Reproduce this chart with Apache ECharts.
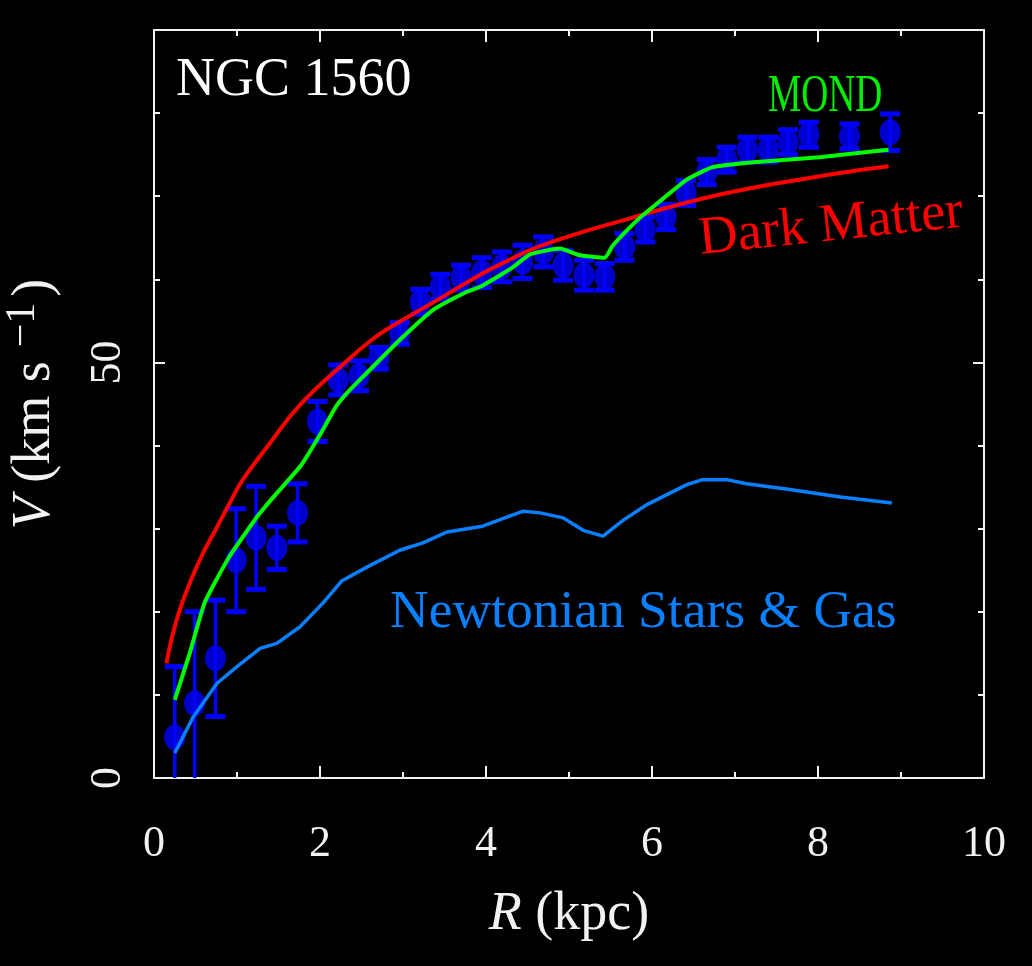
<!DOCTYPE html>
<html>
<head>
<meta charset="utf-8">
<script src="https://cdn.jsdelivr.net/npm/echarts@6/dist/echarts.min.js"></script>
<style>
html,body{margin:0;padding:0;background:#000;}
#chart{width:1032px;height:966px;}
</style>
</head>
<body>
<div id="chart"></div>
<script>
// Observed rotation curve (blue points with error bars)
const R_obs = [0.25,0.49,0.74,0.99,1.23,1.48,1.73,1.97,2.22,2.47,2.71,2.96,3.21,3.45,3.70,3.95,4.19,4.44,4.69,4.93,5.18,5.43,5.67,5.92,6.17,6.41,6.66,6.90,7.15,7.40,7.64,7.89,8.38,8.87];
const V_obs = [4.9,9.0,14.4,26.2,28.9,27.7,31.9,42.9,47.9,48.4,50.5,53.5,57.3,59.1,60.2,60.8,61.5,62.1,63.3,61.7,60.5,60.3,63.9,66.0,67.5,70.4,72.9,74.4,75.6,75.6,76.5,77.4,77.2,77.7];
const V_err = [8.5,11.0,7.0,6.2,6.2,2.6,3.5,2.4,1.8,1.8,1.3,1.3,1.5,1.5,1.5,1.8,1.8,2.0,1.8,1.8,1.8,1.6,1.6,1.5,1.5,1.5,1.5,1.5,1.5,1.5,1.5,1.5,1.5,2.2];

// Dark Matter fit (red)
const R_dm = [0.15,0.30,0.55,0.76,0.95,1.07,1.36,1.76,2.36,2.62,2.84,3.36,3.94,4.17,4.65,5.65,6.82,8.02,8.85];
const V_dm = [13.8,19.9,26.2,30.2,33.8,35.9,39.8,44.9,50.5,52.7,54.2,57.2,60.6,61.8,64.0,67.1,70.2,72.4,73.6];

// MOND fit (green)
const R_mond = [0.25,0.43,0.61,0.90,1.24,1.43,1.77,2.00,2.20,2.36,2.56,2.96,3.36,3.77,3.93,4.17,4.33,4.53,4.89,5.13,5.43,5.53,5.82,6.01,6.42,6.73,7.22,8.02,8.85];
const V_mond = [9.4,15.0,21.1,26.5,31.4,33.7,37.6,41.3,44.8,46.7,48.7,52.7,56.3,58.5,59.1,60.5,61.5,63.0,63.7,62.9,62.6,64.1,67.1,68.7,72.0,73.5,74.1,74.7,75.6];

// Newtonian stars & gas (light blue)
const R_newt = [0.25,0.47,0.76,1.00,1.28,1.48,1.76,2.04,2.26,2.57,2.96,3.24,3.53,3.96,4.25,4.45,4.65,4.93,5.17,5.41,5.65,5.94,6.42,6.61,6.90,7.14,7.66,8.27,8.89];
const V_newt = [3.0,7.3,11.4,13.4,15.6,16.2,18.2,21.1,23.7,25.4,27.4,28.3,29.6,30.3,31.4,32.1,31.9,31.3,29.8,29.1,31.0,32.9,35.3,35.9,35.9,35.4,34.7,33.8,33.1];

const yLabelsShown = [0, 50];

const pairs = (xs, ys) => xs.map((x, i) => [x, ys[i]]);
const errData = R_obs.map((r, i) => [r, V_obs[i] - V_err[i], V_obs[i] + V_err[i]]);

const WHITE = '#f2f2f2';
const serif = "'Liberation Serif', 'DejaVu Serif', serif";

const chart = echarts.init(document.getElementById('chart'), null, {renderer: 'canvas'});

const lineSt = {show: true, onZero: false, lineStyle: {color: WHITE, width: 2}};
const baseX = {
  type: 'value', min: 0, max: 10, interval: 2,
  axisLine: lineSt,
  axisTick: {show: true, inside: true, length: 12, lineStyle: {color: WHITE, width: 2}},
  minorTick: {show: true, splitNumber: 2, length: 6, lineStyle: {color: WHITE, width: 2}},
  splitLine: {show: false}, minorSplitLine: {show: false}
};
const baseY = {
  type: 'value', min: 0, max: 90, interval: 10,
  axisLine: lineSt,
  axisTick: {show: true, inside: true, length: 6, lineStyle: {color: WHITE, width: 2}},
  splitLine: {show: false}
};
const longY = {
  type: 'value', min: 0, max: 90, interval: 50,
  axisLine: {show: false, onZero: false}, axisLabel: {show: false}, splitLine: {show: false},
  axisTick: {show: true, inside: true, length: 11, lineStyle: {color: WHITE, width: 2}}
};

const option = {
  backgroundColor: '#000',
  animation: false,
  grid: {left: 154, top: 30, right: 48, bottom: 188, containLabel: false, outerBoundsMode: 'none'},
  xAxis: [
    Object.assign({}, baseX, {
      position: 'bottom',
      name: '{i|R} (kpc)', nameLocation: 'middle', nameGap: 110,
      nameTextStyle: {color: WHITE, fontFamily: serif, fontSize: 54,
        rich: {i: {fontStyle: 'italic', fontFamily: serif, fontSize: 54, color: WHITE}}},
      axisLabel: {show: true, color: WHITE, fontFamily: serif, fontSize: 44, margin: 44}
    }),
    Object.assign({}, baseX, {position: 'top', axisLabel: {show: false}})
  ],
  yAxis: [
    Object.assign({}, baseY, {
      position: 'left',
      name: '{i|V} (km s{sup|−1})', nameLocation: 'middle', nameRotate: 90, nameGap: 86,
      nameTextStyle: {color: WHITE, fontFamily: serif, fontSize: 54,
        rich: {
          i: {fontStyle: 'italic', fontFamily: serif, fontSize: 54, color: WHITE},
          sup: {fontFamily: serif, fontSize: 42, color: WHITE, verticalAlign: 'top', padding: [0, 6, 24, 14]}
        }},
      axisLabel: {show: true, color: WHITE, fontFamily: serif, fontSize: 44, rotate: 90, margin: 24,
        formatter: v => (yLabelsShown.indexOf(v) >= 0 ? String(v) : '')}
    }),
    Object.assign({}, baseY, {position: 'right', axisLabel: {show: false}}),
    Object.assign({}, longY, {position: 'left'}),
    Object.assign({}, longY, {position: 'right'})
  ],
  series: [
    {
      type: 'custom', name: 'errors', xAxisIndex: 0, yAxisIndex: 0, z: 2,
      data: errData,
      renderItem: function (params, api) {
        const x = api.value(0), lo = api.value(1), hi = api.value(2);
        const pHi = api.coord([x, hi]);
        const pLo = api.coord([x, Math.max(lo, 0)]);
        const hw = 10;
        const st = {stroke: '#0000ff', lineWidth: 3.5};
        const cap = {stroke: '#0000ff', lineWidth: 5};
        const children = [
          {type: 'line', shape: {x1: pHi[0], y1: pHi[1], x2: pLo[0], y2: pLo[1]}, style: st},
          {type: 'line', shape: {x1: pHi[0] - hw, y1: pHi[1], x2: pHi[0] + hw, y2: pHi[1]}, style: cap}
        ];
        if (lo >= 0) {
          children.push({type: 'line', shape: {x1: pLo[0] - hw, y1: pLo[1], x2: pLo[0] + hw, y2: pLo[1]}, style: cap});
        }
        return {type: 'group', children: children};
      }
    },
    {
      type: 'scatter', name: 'Observed', xAxisIndex: 0, yAxisIndex: 0, z: 3,
      symbol: 'circle', symbolSize: [21, 26],
      itemStyle: {color: '#0000ff'},
      data: pairs(R_obs, V_obs)
    },
    {
      type: 'line', name: 'Newtonian', xAxisIndex: 0, yAxisIndex: 0, z: 4,
      showSymbol: false, symbol: 'none',
      lineStyle: {color: '#0a80ff', width: 3.5},
      data: pairs(R_newt, V_newt)
    },
    {
      type: 'line', name: 'Dark Matter', xAxisIndex: 0, yAxisIndex: 0, z: 5,
      showSymbol: false, symbol: 'none', smooth: 0.45,
      lineStyle: {color: '#ff0000', width: 4},
      data: pairs(R_dm, V_dm)
    },
    {
      type: 'line', name: 'MOND', xAxisIndex: 0, yAxisIndex: 0, z: 6,
      showSymbol: false, symbol: 'none', smooth: 0.15,
      lineStyle: {color: '#00ff00', width: 4},
      data: pairs(R_mond, V_mond)
    }
  ],
  graphic: [
    {type: 'text', x: 176, y: 81, z: 10,
      style: {text: 'NGC 1560', fill: '#ffffff', font: "54px 'Liberation Serif', serif", textAlign: 'left', textVerticalAlign: 'middle', verticalAlign: 'middle'}},
    {type: 'text', x: 768, y: 97, scaleX: 0.78, scaleY: 1.12, z: 10,
      style: {text: 'MOND', fill: '#00ee00', font: "48px 'Liberation Serif', serif", textAlign: 'left', textVerticalAlign: 'middle', verticalAlign: 'middle'}},
    {type: 'text', x: 699, y: 240, rotation: 0.105, z: 10,
      style: {text: 'Dark Matter', fill: '#ff0000', font: "54px 'Liberation Serif', serif", textAlign: 'left', textVerticalAlign: 'middle', verticalAlign: 'middle'}},
    {type: 'text', x: 390, y: 613, scaleX: 1.07, scaleY: 1.05, z: 10,
      style: {text: 'Newtonian Stars & Gas', fill: '#0a80ff', font: "50px 'Liberation Serif', serif", textAlign: 'left', textVerticalAlign: 'middle', verticalAlign: 'middle'}}
  ]
};

chart.setOption(option);
</script>
</body>
</html>
